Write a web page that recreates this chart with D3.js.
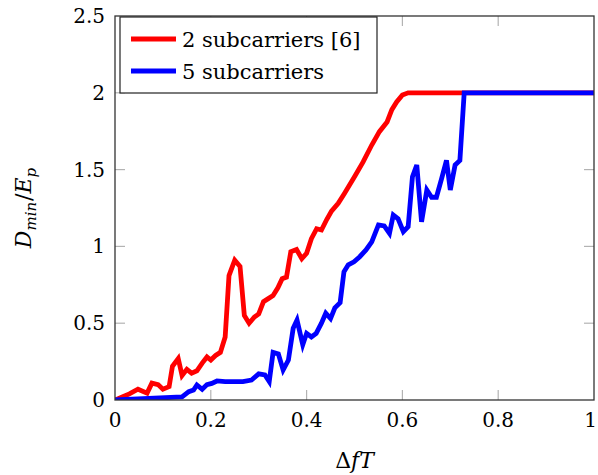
<!DOCTYPE html>
<html>
<head>
<meta charset="utf-8">
<script src="https://cdn.jsdelivr.net/npm/d3@7"></script>
<style>
  body { margin: 0; background: #fff; }
</style>
</head>
<body>
<div id="chart"></div>
<script>
// series
const redX = [0, 0.015, 0.03, 0.048, 0.067, 0.077, 0.09, 0.10, 0.113, 0.12, 0.132, 0.14, 0.15, 0.16, 0.171,
  0.182, 0.192, 0.2, 0.21, 0.22, 0.23, 0.238, 0.25, 0.261, 0.27, 0.28, 0.291, 0.30, 0.31, 0.32, 0.33, 0.34,
  0.349, 0.358, 0.367, 0.379, 0.39, 0.40, 0.41, 0.421, 0.431, 0.442, 0.452, 0.466, 0.479, 0.50, 0.518,
  0.536, 0.552, 0.568, 0.578, 0.588, 0.60, 0.612, 1.0];
const redY = [0, 0.02, 0.04, 0.07, 0.045, 0.11, 0.10, 0.07, 0.087, 0.22, 0.27, 0.16, 0.2, 0.175, 0.19,
  0.24, 0.28, 0.26, 0.29, 0.31, 0.41, 0.81, 0.91, 0.87, 0.55, 0.50, 0.54, 0.56, 0.64, 0.66, 0.68, 0.73,
  0.79, 0.80, 0.965, 0.98, 0.92, 0.955, 1.05, 1.115, 1.107, 1.175, 1.23, 1.28, 1.345, 1.454, 1.55,
  1.66, 1.747, 1.81, 1.89, 1.94, 1.986, 2.0, 2.0];

const blueX = [0, 0.07, 0.14, 0.154, 0.164, 0.171, 0.182, 0.192, 0.202, 0.213, 0.23, 0.25, 0.267, 0.285,
  0.30, 0.313, 0.322, 0.33, 0.341, 0.351, 0.362, 0.372, 0.38, 0.392, 0.40, 0.41, 0.42, 0.431, 0.44, 0.45,
  0.459, 0.47, 0.478, 0.487, 0.499, 0.511, 0.524, 0.536, 0.55, 0.562, 0.573, 0.581, 0.591, 0.602, 0.612,
  0.621, 0.63, 0.64, 0.651, 0.661, 0.671, 0.682, 0.692, 0.70, 0.71, 0.72, 0.729, 1.0];
const blueY = [0, 0.01, 0.02, 0.054, 0.065, 0.098, 0.07, 0.10, 0.108, 0.124, 0.12, 0.12, 0.12, 0.13,
  0.17, 0.163, 0.12, 0.31, 0.30, 0.195, 0.26, 0.467, 0.52, 0.36, 0.434, 0.41, 0.434, 0.5, 0.565, 0.53,
  0.6, 0.634, 0.835, 0.88, 0.90, 0.933, 0.977, 1.03, 1.14, 1.133, 1.085, 1.204, 1.18, 1.096, 1.128,
  1.454, 1.53, 1.16, 1.367, 1.32, 1.32, 1.443, 1.56, 1.367, 1.53, 1.56, 2.0, 2.0];

const seriesNames = ["2 subcarriers [6]", "5 subcarriers"];
const seriesColors = ["#ff0000", "#0000ff"];
const xTicks = [0, 0.2, 0.4, 0.6, 0.8, 1];
const yTicks = [0, 0.5, 1, 1.5, 2, 2.5];

const width = 598, height = 475;
const margin = { top: 16, right: 4, bottom: 75, left: 115 };
const innerW = width - margin.left - margin.right;
const innerH = height - margin.top - margin.bottom;
const serif = "DejaVu Serif";

const svg = d3.select("#chart").append("svg")
  .attr("width", width)
  .attr("height", height)
  .attr("font-family", serif);

const g = svg.append("g")
  .attr("transform", `translate(${margin.left},${margin.top})`);

const x = d3.scaleLinear().domain([0, 1]).range([0, innerW]);
const y = d3.scaleLinear().domain([0, 2.5]).range([innerH, 0]);

// inward ticks on all four sides, like pgfplots
const tickLen = 10;
const tickCol = "#b3b3b3";
g.selectAll(".xt").data(xTicks.slice(1, -1)).join("g").each(function (d) {
  const s = d3.select(this);
  s.append("line").attr("x1", x(d)).attr("x2", x(d)).attr("y1", innerH).attr("y2", innerH - tickLen);
  s.append("line").attr("x1", x(d)).attr("x2", x(d)).attr("y1", 0).attr("y2", tickLen);
}).selectAll("line").attr("stroke", tickCol).attr("stroke-width", 1.2);

g.selectAll(".yt").data(yTicks.slice(1, -1)).join("g").each(function (d) {
  const s = d3.select(this);
  s.append("line").attr("x1", 0).attr("x2", tickLen).attr("y1", y(d)).attr("y2", y(d));
  s.append("line").attr("x1", innerW).attr("x2", innerW - tickLen).attr("y1", y(d)).attr("y2", y(d));
}).selectAll("line").attr("stroke", tickCol).attr("stroke-width", 1.2);

// tick labels (the last one is pulled in so it stays inside the page)
g.selectAll(".xl").data(xTicks).join("text")
  .attr("x", (d, i) => i === xTicks.length - 1 ? x(d) + 3 : x(d))
  .attr("y", innerH + 27)
  .attr("text-anchor", (d, i) => i === xTicks.length - 1 ? "end" : "middle")
  .attr("font-size", 20)
  .text(d => d3.format("~g")(d));

g.selectAll(".yl").data(yTicks).join("text")
  .attr("x", -10)
  .attr("y", d => y(d) + 7)
  .attr("text-anchor", "end")
  .attr("font-size", 20)
  .text(d => d3.format("~g")(d));

// data lines
const line = d3.line()
  .x(d => x(d[0]))
  .y(d => y(d[1]));

const series = [
  d3.zip(redX, redY),
  d3.zip(blueX, blueY)
];

g.append("clipPath").attr("id", "clip")
  .append("rect").attr("width", innerW).attr("height", innerH);

g.selectAll(".series").data(series).join("path")
  .attr("clip-path", "url(#clip)")
  .attr("fill", "none")
  .attr("stroke", (d, i) => seriesColors[i])
  .attr("stroke-width", 4.8)
  .attr("stroke-linejoin", "miter")
  .attr("d", line);

// frame
g.append("rect")
  .attr("width", innerW)
  .attr("height", innerH)
  .attr("fill", "none")
  .attr("stroke", "#333")
  .attr("stroke-width", 1.3);

// legend
const legend = svg.append("g").attr("transform", "translate(120,17)");
legend.append("rect")
  .attr("width", 257).attr("height", 76)
  .attr("fill", "#fff").attr("stroke", "#222").attr("stroke-width", 1.2);
seriesNames.forEach((name, i) => {
  const ly = 22 + i * 32;
  legend.append("line")
    .attr("x1", 11).attr("x2", 56).attr("y1", ly).attr("y2", ly)
    .attr("stroke", seriesColors[i]).attr("stroke-width", 4.8);
  legend.append("text")
    .attr("x", 62).attr("y", ly + 8)
    .attr("font-size", 21)
    .text(name);
});

// axis labels
const xl = svg.append("text")
  .attr("x", margin.left + innerW / 2)
  .attr("y", 468)
  .attr("text-anchor", "middle")
  .attr("font-size", 22);
xl.append("tspan").text("Δ");
xl.append("tspan").attr("font-style", "italic").text("fT");

const yl = svg.append("text")
  .attr("transform", `translate(31,${margin.top + innerH / 2}) rotate(-90)`)
  .attr("text-anchor", "middle")
  .attr("font-size", 22);
yl.append("tspan").attr("font-style", "italic").text("D");
yl.append("tspan").attr("font-style", "italic").attr("font-size", 15).attr("dy", 5).text("min");
yl.append("tspan").attr("dy", -5).attr("dx", 1).text("/");
yl.append("tspan").attr("font-style", "italic").text("E");
yl.append("tspan").attr("font-style", "italic").attr("font-size", 15).attr("dy", 5).text("p");
</script>
</body>
</html>
